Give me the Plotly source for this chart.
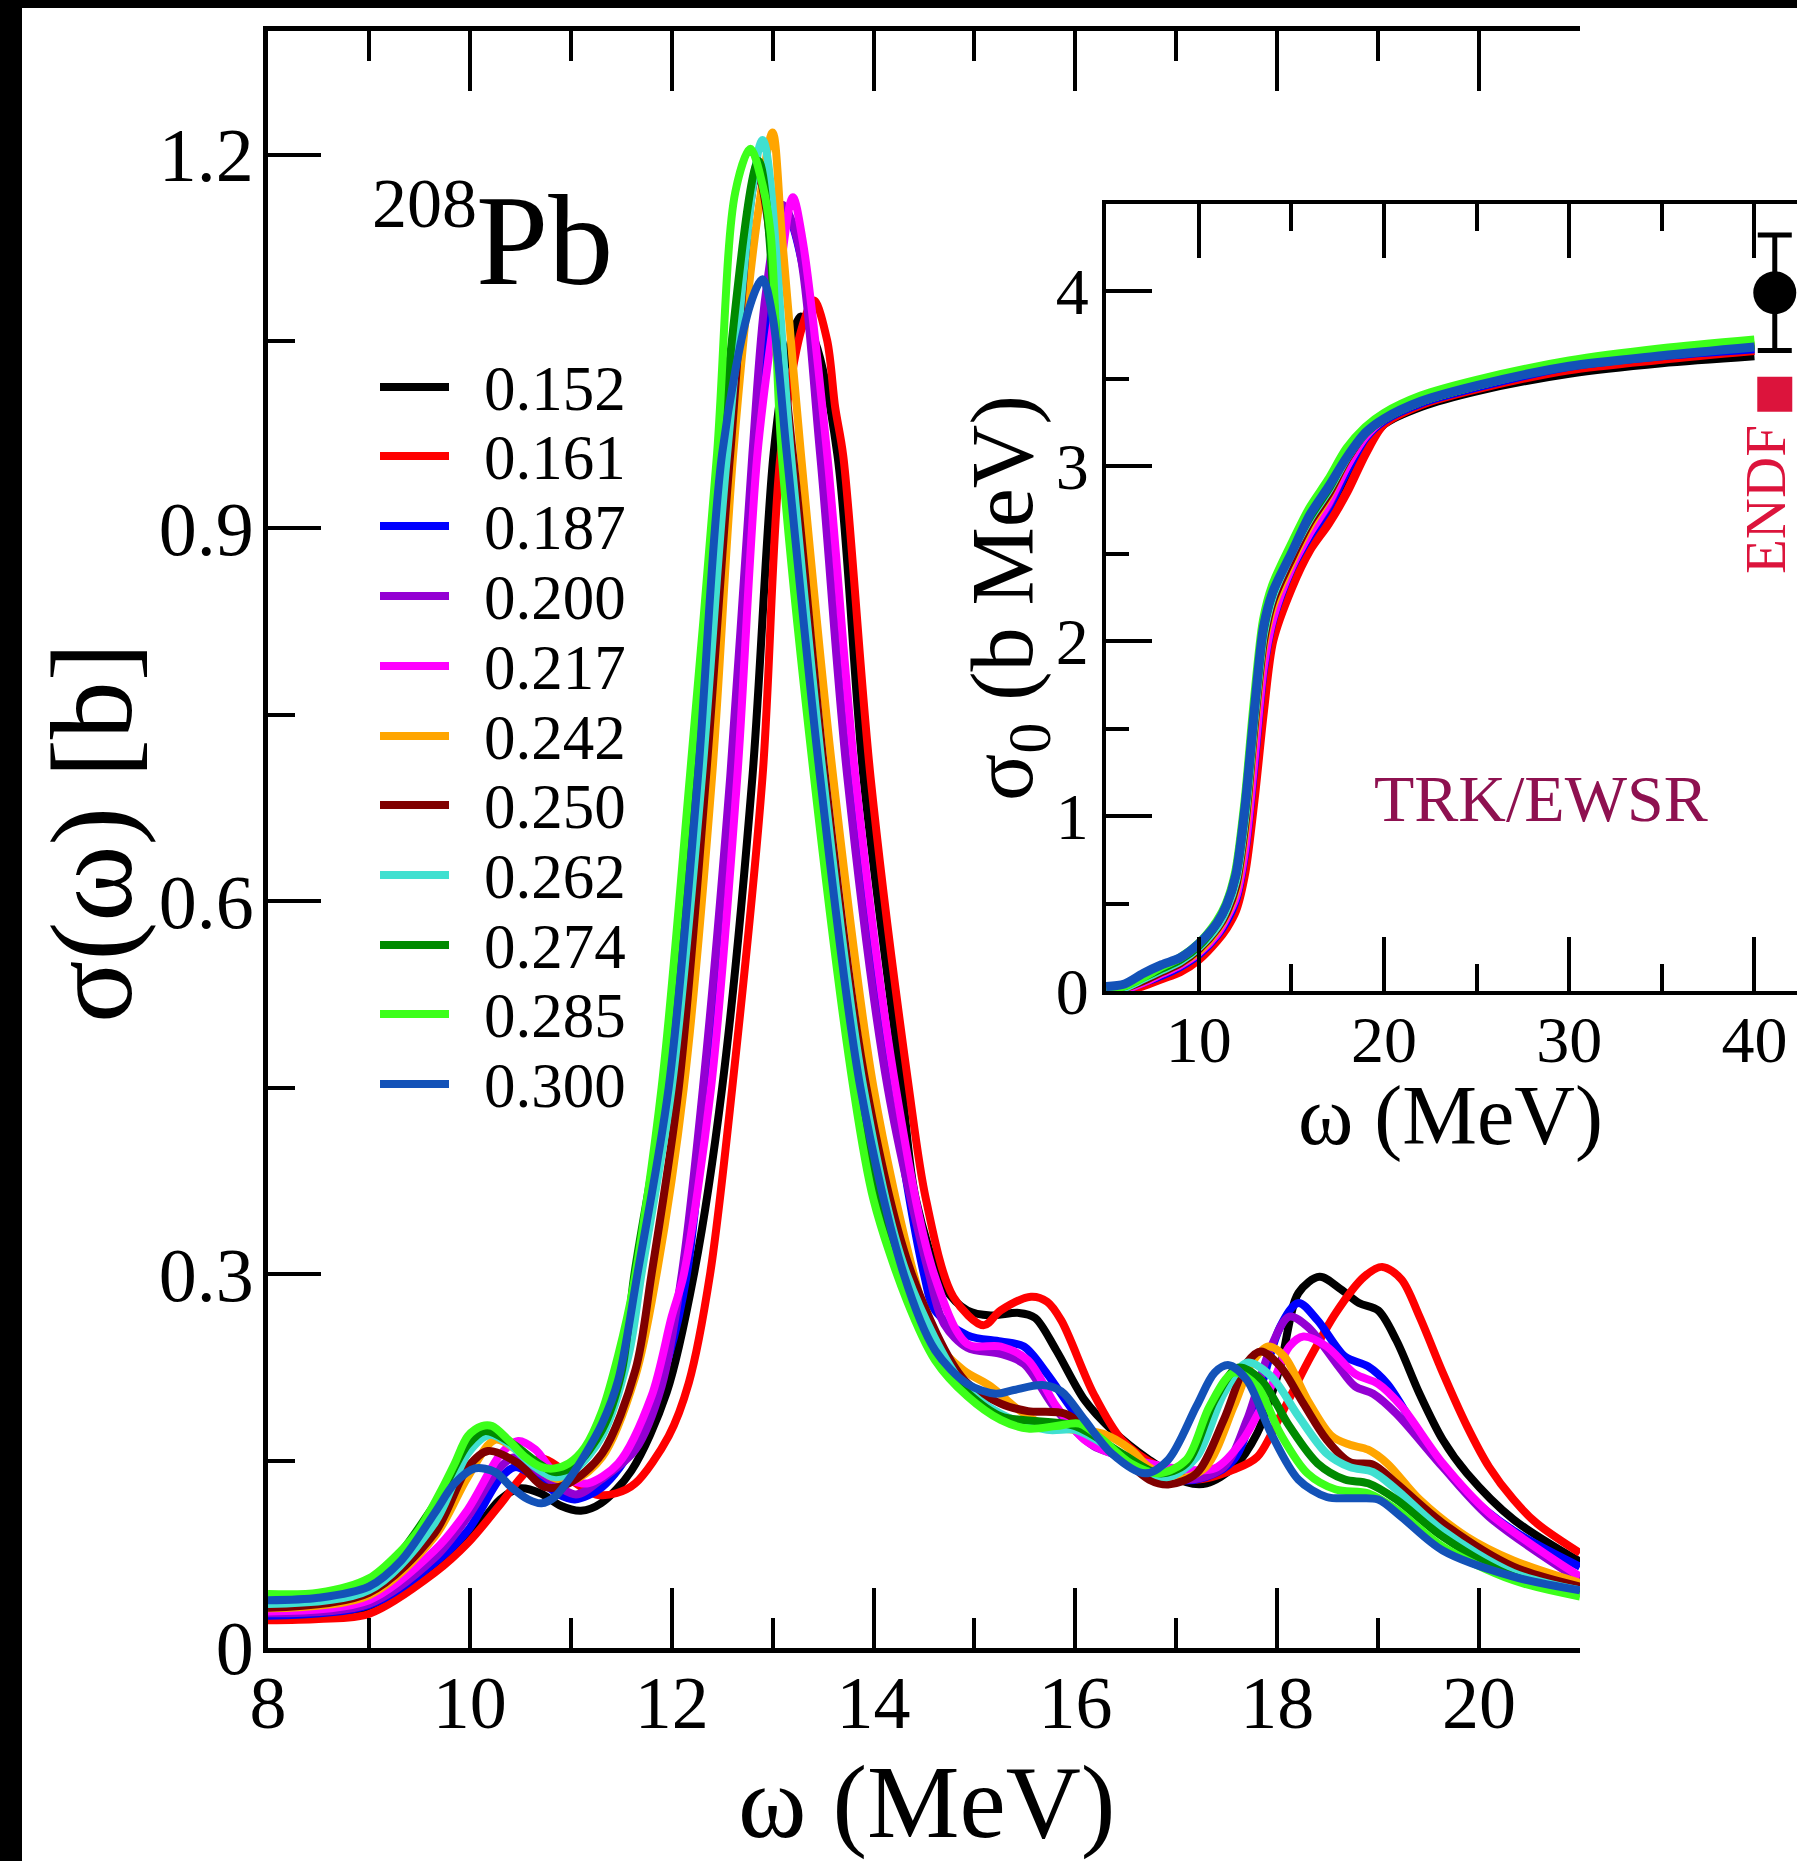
import plotly.graph_objects as go

W, H = 1797, 1861
FONT = "Liberation Serif"

# ---------------- data ----------------
LABELS = ['0.152', '0.161', '0.187', '0.200', '0.217', '0.242',
          '0.250', '0.262', '0.274', '0.285', '0.300']
COLORS = ['#000000', '#ff0000', '#0000ff', '#9400d3', '#ff00ff', '#ffa500',
          '#800000', '#40e0d0', '#008a00', '#3cff1a', '#1352b8']

# main panel: sigma(omega) [b] vs omega (MeV)
X_152 = [8, 8.5, 9, 9.65, 10, 10.3, 10.5, 10.7, 10.9, 11.1, 11.3, 11.6, 11.95, 12.22, 12.5, 12.8, 13.01,
         13.15, 13.28, 13.42, 13.64, 13.9, 14.28, 14.42, 14.7, 14.93, 15.16, 15.44, 15.6, 15.81, 16.09,
         16.36, 16.73, 17.1, 17.3, 17.57, 17.8, 18.03, 18.21, 18.42, 18.63, 18.81, 19.0, 19.18, 19.41,
         19.64, 19.88, 20.34, 21.0]
Y_152 = [0.0235, 0.024, 0.030, 0.062, 0.089, 0.119, 0.128, 0.124, 0.114, 0.110, 0.116, 0.142, 0.205, 0.30,
         0.45, 0.70, 0.96, 1.04, 1.07, 1.05, 0.96, 0.70, 0.45, 0.36, 0.29, 0.271, 0.267, 0.269, 0.265,
         0.239, 0.199, 0.175, 0.151, 0.133, 0.132, 0.145, 0.172, 0.226, 0.285, 0.298, 0.288, 0.277,
         0.271, 0.247, 0.204, 0.167, 0.140, 0.103, 0.069]

X_161 = [8, 8.5, 9, 9.65, 9.98, 10.31, 10.51, 10.71, 10.88, 11.05, 11.25, 11.45, 11.64, 11.97, 12.17,
         12.38, 12.6, 12.9, 13.08, 13.29, 13.41, 13.54, 13.62, 13.70, 13.97, 14.35, 14.52, 14.79, 15.09,
         15.26, 15.56, 15.72, 15.86, 16.18, 16.46, 16.83, 17.2, 17.57, 17.8, 18.03, 18.3, 18.58, 18.86,
         19.04, 19.23, 19.41, 19.64, 19.88, 20.1, 20.34, 20.57, 21.0]
Y_161 = [0.022, 0.023, 0.027, 0.060, 0.084, 0.116, 0.137, 0.152, 0.145, 0.132, 0.123, 0.124, 0.132, 0.170,
         0.213, 0.30, 0.45, 0.70, 0.96, 1.061, 1.083, 1.051, 0.997, 0.958, 0.70, 0.45, 0.36, 0.282, 0.259,
         0.271, 0.282, 0.278, 0.263, 0.204, 0.167, 0.145, 0.135, 0.143, 0.153, 0.186, 0.229, 0.269,
         0.298, 0.306, 0.296, 0.266, 0.221, 0.178, 0.145, 0.119, 0.100, 0.076]

X_187 = [8, 9, 9.65, 9.98, 10.31, 10.45, 10.65, 10.88, 11.04, 11.31, 11.64, 11.97, 12.15, 12.35, 12.62,
         12.83, 13.0, 13.15, 13.3, 13.50, 13.78, 14.18, 14.5, 14.61, 14.93, 15.26, 15.49, 15.72, 16.0,
         16.27, 16.64, 17.0, 17.29, 17.57, 17.8, 18.03, 18.21, 18.4, 18.67, 18.9, 19.09, 19.41, 19.88,
         20.34, 21.0]
Y_187 = [0.0256, 0.034, 0.068, 0.094, 0.137, 0.145, 0.137, 0.123, 0.119, 0.129, 0.164, 0.234, 0.30, 0.45,
         0.70, 0.96, 1.10, 1.15, 1.11, 0.96, 0.70, 0.45, 0.30, 0.271, 0.251, 0.246, 0.242, 0.220, 0.188,
         0.164, 0.148, 0.135, 0.137, 0.151, 0.199, 0.258, 0.277, 0.263, 0.234, 0.226, 0.212, 0.172,
         0.124, 0.094, 0.065]

X_200 = [8, 9, 9.65, 9.98, 10.3, 10.45, 10.7, 11.05, 11.3, 11.64, 11.9, 12.1, 12.31, 12.58, 12.80, 12.93,
         13.1, 13.25, 13.47, 13.74, 14.14, 14.55, 14.7, 14.93, 15.26, 15.49, 15.81, 16.18, 16.73, 17.1,
         17.47, 17.7, 17.94, 18.12, 18.3, 18.58, 18.77, 18.95, 19.18, 19.64, 20.1, 21.0]
Y_200 = [0.0275, 0.035, 0.072, 0.105, 0.145, 0.153, 0.140, 0.123, 0.135, 0.159, 0.210, 0.30, 0.45, 0.70,
         0.96, 1.087, 1.16, 1.13, 0.96, 0.70, 0.45, 0.30, 0.26, 0.241, 0.236, 0.228, 0.191, 0.162, 0.148,
         0.135, 0.145, 0.183, 0.242, 0.266, 0.258, 0.229, 0.210, 0.204, 0.188, 0.145, 0.105, 0.054]

X_217 = [8, 9, 9.65, 9.98, 10.31, 10.48, 10.65, 10.81, 10.98, 11.17, 11.47, 11.8, 12.0, 12.12, 12.39,
         12.65, 12.85, 13.05, 13.2, 13.3, 13.54, 13.82, 14.22, 14.6, 14.93, 15.26, 15.53, 15.81, 16.09,
         16.36, 16.73, 17.1, 17.38, 17.66, 17.94, 18.12, 18.26, 18.49, 18.77, 19.0, 19.23, 19.64, 20.1,
         21.0]
Y_217 = [0.029, 0.038, 0.078, 0.111, 0.156, 0.166, 0.159, 0.143, 0.135, 0.132, 0.148, 0.202, 0.266, 0.30,
         0.45, 0.70, 0.96, 1.09, 1.166, 1.13, 0.96, 0.70, 0.45, 0.30, 0.244, 0.242, 0.231, 0.194, 0.167,
         0.156, 0.148, 0.143, 0.144, 0.167, 0.210, 0.242, 0.250, 0.242, 0.220, 0.212, 0.194, 0.148,
         0.108, 0.057]

X_242 = [8, 9, 9.65, 9.98, 10.25, 10.51, 10.81, 11.04, 11.31, 11.64, 11.85, 12.12, 12.40, 12.61, 12.85,
         13.0, 13.09, 13.28, 13.60, 14.0, 14.4, 14.61, 14.89, 15.16, 15.44, 15.72, 16.0, 16.27, 16.55,
         16.73, 17.0, 17.29, 17.57, 17.75, 17.91, 18.07, 18.3, 18.54, 18.72, 18.9, 19.09, 19.41, 19.88,
         20.34, 21.0]
Y_242 = [0.0315, 0.042, 0.089, 0.137, 0.167, 0.156, 0.137, 0.135, 0.153, 0.218, 0.30, 0.45, 0.70, 0.96,
         1.15, 1.218, 1.137, 0.96, 0.70, 0.45, 0.30, 0.247, 0.223, 0.210, 0.191, 0.178, 0.175, 0.172,
         0.159, 0.145, 0.135, 0.145, 0.194, 0.229, 0.242, 0.234, 0.199, 0.170, 0.163, 0.159, 0.148,
         0.119, 0.089, 0.070, 0.052]

X_250 = [8, 9, 9.65, 9.98, 10.18, 10.48, 10.74, 10.98, 11.31, 11.64, 11.80, 12.07, 12.34, 12.58, 12.85,
         13.2, 13.52, 13.93, 14.38, 14.9, 15.26, 15.53, 15.9, 16.18, 16.46, 16.73, 16.92, 17.2, 17.47,
         17.7, 17.84, 18.03, 18.26, 18.49, 18.72, 18.95, 19.18, 19.64, 20.34, 21.0]
Y_250 = [0.032, 0.044, 0.092, 0.145, 0.158, 0.148, 0.129, 0.132, 0.156, 0.223, 0.30, 0.45, 0.70, 0.96,
         1.185, 0.96, 0.70, 0.45, 0.30, 0.215, 0.196, 0.190, 0.188, 0.172, 0.153, 0.135, 0.131, 0.140,
         0.183, 0.229, 0.238, 0.226, 0.196, 0.167, 0.149, 0.147, 0.132, 0.100, 0.065, 0.049]

X_262 = [8, 9, 9.65, 9.98, 10.2, 10.38, 10.65, 10.84, 11.04, 11.31, 11.57, 11.70, 12.0, 12.30, 12.55,
         12.9, 13.18, 13.50, 13.90, 14.33, 14.9, 15.26, 15.72, 16.0, 16.27, 16.64, 16.92, 17.2, 17.47,
         17.7, 17.94, 18.21, 18.49, 18.72, 18.95, 19.18, 19.64, 20.34, 21.0]
Y_262 = [0.035, 0.046, 0.100, 0.156, 0.171, 0.164, 0.145, 0.137, 0.143, 0.170, 0.234, 0.30, 0.45, 0.70,
         0.96, 1.212, 0.96, 0.70, 0.45, 0.30, 0.210, 0.188, 0.175, 0.175, 0.164, 0.145, 0.137, 0.153,
         0.204, 0.229, 0.218, 0.186, 0.156, 0.145, 0.141, 0.127, 0.094, 0.060, 0.046]

X_274 = [8, 9, 9.65, 9.98, 10.15, 10.4, 10.7, 10.84, 11.04, 11.31, 11.5, 11.63, 11.93, 12.22, 12.48, 12.86,
         13.12, 13.44, 13.83, 14.27, 14.6, 14.93, 15.26, 16.0, 16.46, 16.83, 17.1, 17.38, 17.61, 17.84,
         18.12, 18.4, 18.67, 18.9, 19.18, 19.64, 20.34, 21.0]
Y_274 = [0.0395, 0.052, 0.115, 0.163, 0.174, 0.165, 0.147, 0.141, 0.146, 0.175, 0.220, 0.30, 0.45, 0.70,
         0.96, 1.195, 0.96, 0.70, 0.45, 0.30, 0.235, 0.205, 0.186, 0.178, 0.156, 0.140, 0.148, 0.199,
         0.225, 0.215, 0.178, 0.148, 0.135, 0.132, 0.119, 0.089, 0.057, 0.045]

X_285 = [8, 8.5, 9.0, 9.32, 9.49, 9.72, 9.85, 9.98, 10.12, 10.22, 10.38, 10.55, 10.71, 10.84, 10.98, 11.14,
         11.31, 11.47, 11.62, 11.90, 12.18, 12.45, 12.63, 12.78, 12.90, 12.98, 13.09, 13.41, 13.80, 14.0,
         14.33, 14.61, 14.93, 15.26, 15.53, 15.81, 16.04, 16.27, 16.55, 16.83, 17.1, 17.33, 17.57, 17.8,
         18.03, 18.3, 18.58, 18.9, 19.18, 19.64, 20.34, 21.0]
Y_285 = [0.043, 0.044, 0.0556, 0.078, 0.094, 0.127, 0.148, 0.170, 0.178, 0.178, 0.167, 0.153, 0.145, 0.144,
         0.148, 0.161, 0.190, 0.235, 0.29, 0.45, 0.70, 0.96, 1.17, 1.205, 1.176, 1.137, 0.96, 0.70, 0.45,
         0.36, 0.279, 0.231, 0.202, 0.183, 0.176, 0.178, 0.180, 0.167, 0.148, 0.140, 0.151, 0.194, 0.221,
         0.210, 0.172, 0.140, 0.127, 0.124, 0.111, 0.081, 0.054, 0.041]

X_300 = [8, 8.5, 9, 9.32, 9.65, 9.85, 10.05, 10.25, 10.41, 10.58, 10.71, 10.84, 10.98, 11.14, 11.31, 11.47,
         11.66, 11.97, 12.26, 12.50, 12.78, 12.90, 13.0, 13.14, 13.47, 13.87, 14.30, 14.61, 14.93, 15.21,
         15.39, 15.67, 15.86, 16.09, 16.36, 16.69, 16.92, 17.2, 17.38, 17.52, 17.7, 17.94, 18.21, 18.49,
         18.77, 19.0, 19.23, 19.64, 20.34, 21.0]
Y_300 = [0.038, 0.040, 0.049, 0.070, 0.108, 0.132, 0.144, 0.141, 0.129, 0.119, 0.116, 0.121, 0.135, 0.155,
         0.180, 0.215, 0.30, 0.45, 0.70, 0.96, 1.08, 1.10, 1.07, 0.96, 0.70, 0.45, 0.30, 0.239, 0.212,
         0.204, 0.207, 0.211, 0.206, 0.183, 0.156, 0.140, 0.151, 0.194, 0.221, 0.227, 0.215, 0.172, 0.135,
         0.121, 0.120, 0.119, 0.105, 0.078, 0.057, 0.046]

MAIN_X = [X_152, X_161, X_187, X_200, X_217, X_242, X_250, X_262, X_274, X_285, X_300]
MAIN_Y = [Y_152, Y_161, Y_187, Y_200, Y_217, Y_242, Y_250, Y_262, Y_274, Y_285, Y_300]

# inset: running sum sigma_0 (b MeV)
INSET_X = [5, 6, 7, 8, 9, 10, 11, 11.5, 12, 12.5, 13, 13.5, 14, 15, 16, 17, 18, 19, 20, 22, 25, 30, 35, 40]
S_152 = [0.0, 0.0, 0.04, 0.08, 0.12, 0.19, 0.30, 0.38, 0.48, 0.72, 1.18, 1.70, 2.03, 2.35, 2.55, 2.70, 2.88, 3.10, 3.24, 3.34, 3.43, 3.53, 3.59, 3.63]
S_161 = [0.0, 0.0, 0.03, 0.07, 0.11, 0.18, 0.29, 0.36, 0.46, 0.68, 1.10, 1.60, 2.00, 2.30, 2.52, 2.67, 2.85, 3.07, 3.24, 3.35, 3.44, 3.55, 3.61, 3.66]
S_187 = [0.0, 0.01, 0.05, 0.09, 0.14, 0.21, 0.32, 0.40, 0.52, 0.80, 1.30, 1.84, 2.12, 2.41, 2.60, 2.76, 2.97, 3.16, 3.26, 3.36, 3.45, 3.57, 3.63, 3.67]
S_200 = [0.0, 0.01, 0.05, 0.10, 0.15, 0.22, 0.33, 0.42, 0.54, 0.84, 1.36, 1.88, 2.14, 2.42, 2.62, 2.78, 3.00, 3.17, 3.27, 3.37, 3.46, 3.58, 3.64, 3.69]
S_217 = [0.0, 0.01, 0.05, 0.10, 0.15, 0.22, 0.33, 0.42, 0.54, 0.82, 1.33, 1.86, 2.13, 2.42, 2.62, 2.79, 3.00, 3.17, 3.27, 3.37, 3.46, 3.58, 3.64, 3.69]
S_242 = [0.0, 0.02, 0.06, 0.11, 0.16, 0.23, 0.35, 0.44, 0.58, 0.92, 1.48, 1.97, 2.20, 2.45, 2.66, 2.83, 3.04, 3.19, 3.27, 3.37, 3.46, 3.58, 3.64, 3.69]
S_250 = [0.0, 0.02, 0.06, 0.11, 0.16, 0.24, 0.36, 0.45, 0.60, 0.96, 1.52, 2.00, 2.23, 2.47, 2.68, 2.84, 3.04, 3.19, 3.27, 3.37, 3.46, 3.58, 3.64, 3.69]
S_262 = [0.0, 0.02, 0.07, 0.12, 0.17, 0.25, 0.37, 0.47, 0.63, 1.00, 1.56, 2.04, 2.26, 2.50, 2.70, 2.86, 3.05, 3.19, 3.27, 3.37, 3.46, 3.58, 3.64, 3.69]
S_274 = [0.01, 0.03, 0.08, 0.13, 0.18, 0.26, 0.39, 0.49, 0.66, 1.04, 1.60, 2.07, 2.28, 2.51, 2.71, 2.87, 3.06, 3.19, 3.27, 3.37, 3.46, 3.58, 3.64, 3.69]
S_285 = [0.01, 0.03, 0.08, 0.14, 0.19, 0.27, 0.40, 0.50, 0.68, 1.08, 1.65, 2.12, 2.32, 2.55, 2.76, 2.92, 3.10, 3.22, 3.30, 3.40, 3.49, 3.60, 3.67, 3.72]
S_300 = [0.025, 0.04, 0.10, 0.15, 0.19, 0.27, 0.39, 0.49, 0.66, 1.05, 1.60, 2.08, 2.28, 2.50, 2.72, 2.88, 3.05, 3.19, 3.27, 3.37, 3.46, 3.57, 3.63, 3.68]
INSET_Y = [S_152, S_161, S_187, S_200, S_217, S_242, S_250, S_262, S_274, S_285, S_300]

# experimental TRK/EWSR point and ENDF value
EXP_X = [41.1]
EXP_Y = [3.99]
EXP_ERR = [0.33]
ENDF_X = [41.1]
ENDF_Y = [3.41]

# tick labels
MAIN_YTICKS = [0, 0.3, 0.6, 0.9, 1.2]
MAIN_YTEXT = ['0', '0.3', '0.6', '0.9', '1.2']
MAIN_XTICKS = [8, 10, 12, 14, 16, 18, 20]
INSET_XTICKS = [10, 20, 30, 40]
INSET_YTICKS = [0, 1, 2, 3, 4]


def px(xf):
    return xf / W


def py(yf):
    return 1 - yf / H


fig = go.Figure()

for xs, ys, c, lab in zip(MAIN_X, MAIN_Y, COLORS, LABELS):
    fig.add_trace(go.Scatter(x=xs, y=ys, mode='lines', name=lab,
                             line=dict(color=c, width=8, shape='spline', smoothing=0.9),
                             xaxis='x', yaxis='y', showlegend=False, cliponaxis=True))

for ys, c, lab in zip(INSET_Y, COLORS, LABELS):
    fig.add_trace(go.Scatter(x=INSET_X, y=ys, mode='lines', name=lab,
                             line=dict(color=c, width=9, shape='spline', smoothing=0.8),
                             xaxis='x2', yaxis='y2', showlegend=False))

fig.add_trace(go.Scatter(x=EXP_X, y=EXP_Y, mode='markers', xaxis='x2', yaxis='y2',
                         marker=dict(symbol='circle', size=43, color='black'),
                         error_y=dict(type='data', array=EXP_ERR, visible=True, color='black',
                                      thickness=5, width=17),
                         showlegend=False, cliponaxis=False))
fig.add_trace(go.Scatter(x=ENDF_X, y=ENDF_Y, mode='markers', xaxis='x2', yaxis='y2',
                         marker=dict(symbol='square', size=35, color='#dc143c'),
                         showlegend=False, cliponaxis=False))

tickfont = dict(family=FONT, size=76, color='black')
xtickfont = dict(family=FONT, size=74, color='black')
insetfont = dict(family=FONT, size=66, color='black')

fig.update_layout(
    width=W, height=H,
    margin=dict(l=0, r=0, t=0, b=0, pad=0, autoexpand=False),
    paper_bgcolor='white', plot_bgcolor='white',
    showlegend=False,
    xaxis=dict(domain=[px(268), px(1580)], range=[8, 21], anchor='y', automargin=False,
               tickvals=MAIN_XTICKS, ticks='inside', ticklen=60, tickwidth=4, tickcolor='black',
               minor=dict(dtick=1, tick0=8, ticks='inside', ticklen=30, tickwidth=4, tickcolor='black'),
               showline=True, linewidth=5, linecolor='black', mirror='ticks',
               showgrid=False, zeroline=False, tickfont=xtickfont, ticklabelstandoff=-13),
    yaxis=dict(domain=[py(1647.5), py(30.5)], range=[0, 1.3], anchor='x', automargin=False,
               tickvals=MAIN_YTICKS, ticktext=MAIN_YTEXT, ticks='inside', ticklen=53, tickwidth=4,
               tickcolor='black',
               minor=dict(dtick=0.15, tick0=0, ticks='inside', ticklen=27, tickwidth=4, tickcolor='black'),
               showline=True, linewidth=5, linecolor='black', mirror=False,
               showgrid=False, zeroline=False, tickfont=tickfont, ticklabelstandoff=-6),
    xaxis2=dict(domain=[px(1106), 1.0], range=[5, 42.3], anchor='y2', automargin=False,
                tickvals=INSET_XTICKS, ticks='inside', ticklen=54, tickwidth=4, tickcolor='black',
                minor=dict(dtick=5, tick0=0, ticks='inside', ticklen=27, tickwidth=4, tickcolor='black'),
                showline=True, linewidth=4, linecolor='black', mirror='ticks',
                showgrid=False, zeroline=False, tickfont=insetfont, ticklabelstandoff=-12),
    yaxis2=dict(domain=[py(991), py(203.5)], range=[0, 4.5], anchor='x2', automargin=False,
                tickvals=INSET_YTICKS, ticks='inside', ticklen=46, tickwidth=4, tickcolor='black',
                minor=dict(dtick=0.5, tick0=0, ticks='inside', ticklen=23, tickwidth=4, tickcolor='black'),
                showline=True, linewidth=4, linecolor='black', mirror=False,
                showgrid=False, zeroline=False, tickfont=insetfont, ticklabelstandoff=0),
)

shapes = [
    dict(type='rect', xref='paper', yref='paper', x0=0, x1=px(22), y0=0, y1=1,
         fillcolor='black', line=dict(width=0), layer='above'),
    dict(type='rect', xref='paper', yref='paper', x0=0, x1=1, y0=py(8), y1=1,
         fillcolor='black', line=dict(width=0), layer='above'),
]
annotations = []

# manual legend
LEG_ROWS = [387, 456, 526, 596, 666, 736, 805, 875, 945, 1014, 1084]
for yr, c, lab in zip(LEG_ROWS, COLORS, LABELS):
    shapes.append(dict(type='line', xref='paper', yref='paper', x0=px(380), x1=px(449),
                       y0=py(yr), y1=py(yr), line=dict(color=c, width=8)))
    annotations.append(dict(xref='paper', yref='paper', x=px(482), y=py(yr + 2), text=lab,
                            showarrow=False, xanchor='left', yanchor='middle',
                            font=dict(family=FONT, size=63, color='black')))

annotations += [
    dict(xref='paper', yref='paper', x=px(926), y=py(1802), text='ω (MeV)', showarrow=False,
         xanchor='center', yanchor='middle', font=dict(family=FONT, size=104, color='black')),
    dict(xref='paper', yref='paper', x=px(92), y=py(833), text='σ(ω) [b]', showarrow=False,
         textangle=-90, xanchor='center', yanchor='middle',
         font=dict(family=FONT, size=116, color='black')),
    dict(xref='paper', yref='paper', x=px(1450), y=py(1116), text='ω (MeV)', showarrow=False,
         xanchor='center', yanchor='middle', font=dict(family=FONT, size=84, color='black')),
    dict(xref='paper', yref='paper', x=px(1008), y=py(598), text='σ<sub>0</sub> (b MeV)',
         showarrow=False, textangle=-90, xanchor='center', yanchor='middle',
         font=dict(family=FONT, size=88, color='black')),
    dict(xref='paper', yref='paper', x=px(1541), y=py(798), text='TRK/EWSR', showarrow=False,
         xanchor='center', yanchor='middle', font=dict(family=FONT, size=66, color='#8e1150')),
    dict(xref='paper', yref='paper', x=px(1765), y=py(500), text='ENDF', showarrow=False,
         textangle=-90, xanchor='center', yanchor='middle', height=40,
         font=dict(family=FONT, size=57, color='#dc143c')),
    dict(xref='paper', yref='paper', x=px(424), y=py(203), text='208', showarrow=False,
         xanchor='center', yanchor='middle', font=dict(family=FONT, size=70, color='black')),
    dict(xref='paper', yref='paper', x=px(544), y=py(240), text='Pb', showarrow=False,
         xanchor='center', yanchor='middle', font=dict(family=FONT, size=130, color='black')),
]

fig.update_layout(shapes=shapes, annotations=annotations)
fig.write_html("out.html")
